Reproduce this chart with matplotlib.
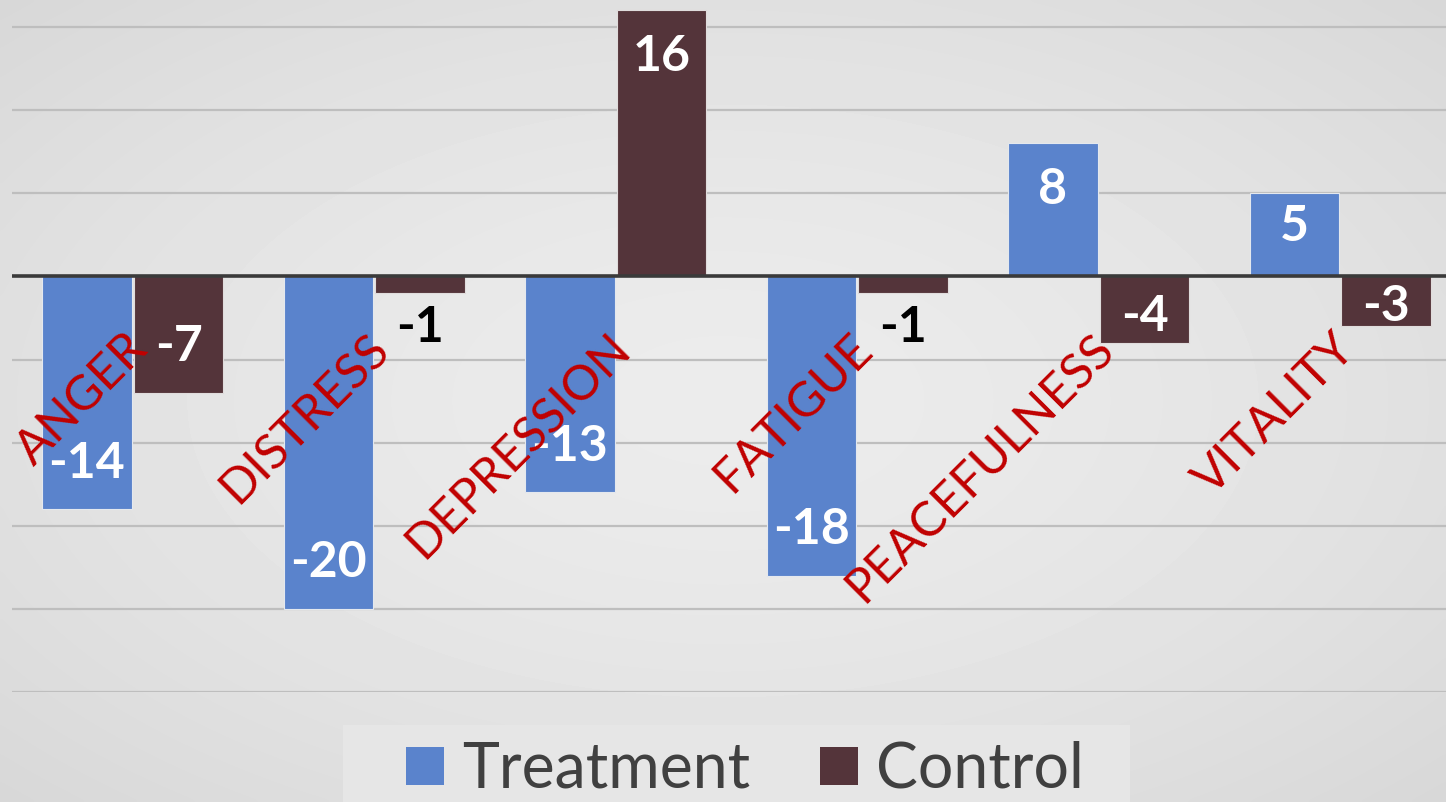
import numpy as np
import matplotlib.pyplot as plt
from matplotlib.patches import Patch, Rectangle

categories = ['ANGER', 'DISTRESS', 'DEPRESSION', 'FATIGUE', 'PEACEFULNESS', 'VITALITY']
treatment = [-14, -20, -13, -18, 8, 5]
control = [-7, -1, 16, -1, -4, -3]
series_names = ['Treatment', 'Control']
y_grid = [-25, -20, -15, -10, -5, 5, 10, 15, 20]

c_treat = '#5A83CC'
c_ctrl = '#54343A'
c_cat = '#C00000'
font = ['Lato', 'DejaVu Sans']

plt.rcParams['font.family'] = font

W, H = 1446, 802
fig = plt.figure(figsize=(W / 100, H / 100), dpi=100)

# radial grey background
bg = fig.add_axes([0, 0, 1, 1])
yy, xx = np.mgrid[-1:1:200j, -1:1:360j]
r = np.sqrt(xx ** 2 + yy ** 2) / np.sqrt(2)
shade = 0.925 - 0.08 * r ** 1.5
bg.imshow(shade, cmap='gray', vmin=0, vmax=1, aspect='auto',
          extent=[0, 1, 0, 1], interpolation='bicubic')
bg.set_axis_off()

# plot area: -25 at y=692 px, 16.625 px per unit
ppu = 16.625
ax = fig.add_axes([12 / W, (H - 692) / H, 1449 / W, 45 * ppu / H])
ax.patch.set_alpha(0)
ax.set_xlim(-0.5, 5.5)
ax.set_ylim(-25, 20)
for s in ax.spines.values():
    s.set_visible(False)
ax.set_xticks([])
ax.set_yticks([])

for g in y_grid:
    ax.axhline(g, color='#BEBEBE', lw=1.6, zorder=1)

x = np.arange(len(categories))
bw = 0.37
off = 0.19
ax.bar(x - off, treatment, bw, color=c_treat, edgecolor='#E4E8EE', lw=0.8, zorder=2)
ax.bar(x + off, control, bw, color=c_ctrl, edgecolor='#E0DCDC', lw=0.8, zorder=2)
ax.axhline(0, color='#3A3A3A', lw=2.6, zorder=3)


def label_bars(xs, vals):
    for xi, v in zip(xs, vals):
        sign = 1 if v > 0 else -1
        blen = abs(v) * ppu
        if abs(v) < 2:
            dy, col = sign * 34, 'black'
        else:
            dy, col = -sign * min(46, blen * 0.4), 'white'
        ax.annotate(f'{v}', xy=(xi, v), xytext=(0, dy), textcoords='offset pixels',
                    ha='center', va='center', fontsize=36, fontweight='bold',
                    color=col, zorder=5)


label_bars(x - off, treatment)
label_bars(x + off, control)

for xi, name in zip(x, categories):
    ax.text(xi + 0.03, -3.9, name, rotation=45, rotation_mode='anchor',
            ha='right', va='center', fontsize=35, color=c_cat, zorder=6)

# legend
fig.patches.append(Rectangle((343 / W, -0.05), (1130 - 343) / W, 0.05 + (H - 725) / H,
                             transform=fig.transFigure, facecolor='#E6E6E6',
                             edgecolor='none', zorder=1))
handles = [Patch(facecolor=c_treat), Patch(facecolor=c_ctrl)]
fig.legend(handles, series_names, loc='center', bbox_to_anchor=(745 / W, 32 / H),
           ncol=2, frameon=False, fontsize=45, labelcolor='#404040',
           handlelength=0.6, handleheight=0.56, handletextpad=0.29,
           columnspacing=1.12, borderpad=0)

fig.savefig('out.png', dpi=100)
